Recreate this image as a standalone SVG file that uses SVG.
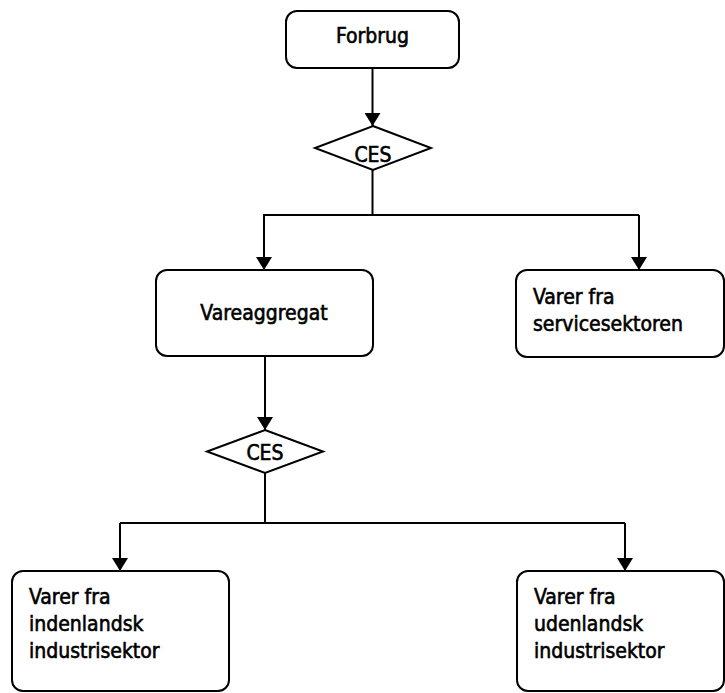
<svg xmlns="http://www.w3.org/2000/svg" width="725" height="693" viewBox="0 0 725 693">
<style>
.box{fill:#fff;stroke:#000;stroke-width:2}
.dia{fill:#fff;stroke:#000;stroke-width:2}
.ln{fill:none;stroke:#000;stroke-width:2}
text{font-family:"DejaVu Sans Condensed","DejaVu Sans",sans-serif;font-size:21px;fill:#000;stroke:#000;stroke-width:0.6}
.c{text-anchor:middle}
</style>
<defs>
<marker id="ah" markerUnits="userSpaceOnUse" markerWidth="14" markerHeight="16" refX="13" refY="8" orient="auto" viewBox="0 0 13 16">
<path d="M0,0 L13,8 L0,16 Z" fill="#000"/>
</marker>
</defs>
<rect width="725" height="693" fill="#fff"/>
<g id="connectors">
<line class="ln" x1="372.5" y1="68" x2="372.5" y2="126" marker-end="url(#ah)"/>
<polyline class="ln" points="372.5,170 372.5,215"/>
<polyline class="ln" points="263,215 639,215"/>
<line class="ln" x1="264" y1="215" x2="264" y2="270" marker-end="url(#ah)"/>
<line class="ln" x1="639" y1="215" x2="639" y2="270" marker-end="url(#ah)"/>
<line class="ln" x1="265" y1="356" x2="265" y2="430" marker-end="url(#ah)"/>
<polyline class="ln" points="265,473 265,523"/>
<polyline class="ln" points="120,523 625,523"/>
<line class="ln" x1="120" y1="523" x2="120" y2="571" marker-end="url(#ah)"/>
<line class="ln" x1="625" y1="523" x2="625" y2="571" marker-end="url(#ah)"/>
</g>
<g id="forbrug">
<rect class="box" x="286" y="11" width="173" height="57" rx="11"/>
<text class="c" x="372.5" y="43">Forbrug</text>
</g>
<g id="ces1">
<polygon class="dia" points="373,126 431,148 373,170 315,148"/>
<text class="c" x="373" y="162">CES</text>
</g>
<g id="vareaggregat">
<rect class="box" x="156" y="270" width="217" height="86" rx="11"/>
<text class="c" x="264" y="320">Vareaggregat</text>
</g>
<g id="service">
<rect class="box" x="516" y="270" width="208" height="87" rx="11"/>
<text x="533" y="304">Varer fra</text>
<text x="533" y="331">servicesektoren</text>
</g>
<g id="ces2">
<polygon class="dia" points="265,430 323,451.5 265,473 207,451.5"/>
<text class="c" x="265" y="460">CES</text>
</g>
<g id="indenlandsk">
<rect class="box" x="12" y="571" width="217" height="120" rx="11"/>
<text x="29" y="604">Varer fra</text>
<text x="29" y="631">indenlandsk</text>
<text x="29" y="658">industrisektor</text>
</g>
<g id="udenlandsk">
<rect class="box" x="517" y="571" width="207" height="120" rx="11"/>
<text x="534" y="604">Varer fra</text>
<text x="534" y="631">udenlandsk</text>
<text x="534" y="658">industrisektor</text>
</g>
</svg>
